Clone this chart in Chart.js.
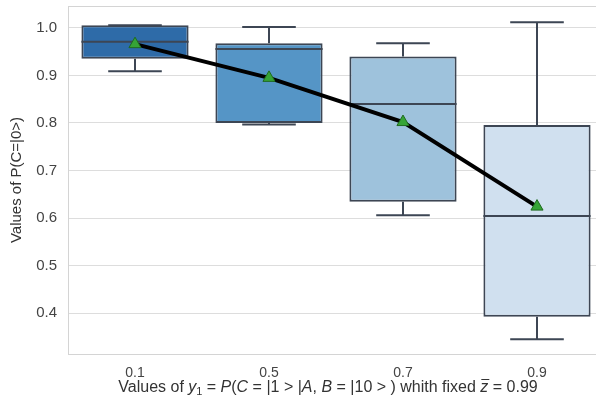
<!DOCTYPE html>
<html>
<head>
<meta charset="utf-8">
<script src="https://cdn.jsdelivr.net/npm/chart.js@4.4.1/dist/chart.umd.min.js"></script>
<style>
  html, body { margin: 0; padding: 0; background: #fff; overflow: hidden; }
  #wrap { width: 606px; height: 408px; }
</style>
</head>
<body>
<div id="wrap"><canvas id="box-chart" width="606" height="408"></canvas></div>
<script>
// y1 settings on the x axis
const categories = ['0.1', '0.5', '0.7', '0.9'];

// box statistics per category
const q1 = [0.935, 0.800, 0.634, 0.392];
const q3 = [1.006, 0.968, 0.940, 0.796];
const medians = [0.971, 0.956, 0.840, 0.604];
const whiskerLow = [0.909, 0.797, 0.606, 0.345];
const whiskerHigh = [1.006, 1.002, 0.968, 1.012];
const means = [0.966, 0.895, 0.802, 0.624];

const yTicks = [0.4, 0.5, 0.6, 0.7, 0.8, 0.9, 1.0];
const boxColors = ['#2e6ba8', '#5595c6', '#9ec2dc', '#d0e0ef'];
const edgeColor = '#3d4654';
const fontFamily = '"Liberation Sans", Arial, sans-serif';

// light frame around the plot area
const framePlugin = {
    id: 'frame',
    beforeDatasetsDraw(chart) {
        const a = chart.chartArea;
        const ctx = chart.ctx;
        ctx.save();
        ctx.strokeStyle = '#d4d4d4';
        ctx.lineWidth = 1;
        ctx.strokeRect(a.left + 0.5, a.top + 0.5, a.right - a.left, a.bottom - a.top);
        ctx.restore();
    }
};

// whiskers, caps and median lines on top of the box bars
const boxDetailsPlugin = {
    id: 'boxDetails',
    afterDatasetDraw(chart, args) {
        if (args.index !== 0) return;
        const y = chart.scales.y;
        const ctx = chart.ctx;
        const meta = chart.getDatasetMeta(0);
        ctx.save();
        ctx.strokeStyle = edgeColor;
        ctx.lineWidth = 2;
        meta.data.forEach((bar, i) => {
            const x = bar.x;
            const half = bar.width / 2;
            const capHalf = bar.width / 4;
            const yLow = y.getPixelForValue(whiskerLow[i]);
            const yHigh = y.getPixelForValue(whiskerHigh[i]);
            const yQ1 = y.getPixelForValue(q1[i]);
            const yQ3 = y.getPixelForValue(q3[i]);
            const yMed = y.getPixelForValue(medians[i]);
            ctx.beginPath();
            ctx.moveTo(x, yQ3); ctx.lineTo(x, yHigh);
            ctx.moveTo(x - capHalf, yHigh); ctx.lineTo(x + capHalf, yHigh);
            ctx.moveTo(x, yQ1); ctx.lineTo(x, yLow);
            ctx.moveTo(x - capHalf, yLow); ctx.lineTo(x + capHalf, yLow);
            ctx.moveTo(x - half, yMed); ctx.lineTo(x + half, yMed);
            ctx.stroke();
        });
        ctx.restore();
    }
};

// x axis title with italic math parts
const xTitlePlugin = {
    id: 'xTitle',
    afterDraw(chart) {
        const ctx = chart.ctx;
        const a = chart.chartArea;
        const size = 16;
        const parts = [
            { t: 'Values of ' },
            { t: 'y', it: true },
            { t: '1', sub: true },
            { t: ' = ' },
            { t: 'P', it: true },
            { t: '(' },
            { t: 'C', it: true },
            { t: ' = |1 > |' },
            { t: 'A', it: true },
            { t: ', ' },
            { t: 'B', it: true },
            { t: ' = |10 > ) whith fixed ' },
            { t: 'z', it: true, bar: true },
            { t: ' = 0.99' }
        ];
        const fontFor = p => (p.it ? 'italic ' : '') + (p.sub ? 11 : size) + 'px ' + fontFamily;
        ctx.save();
        let total = 0;
        parts.forEach(p => { ctx.font = fontFor(p); p.w = ctx.measureText(p.t).width; total += p.w; });
        let x = (a.left + a.right) / 2 - 8 - total / 2;
        const base = a.bottom + 38;
        ctx.fillStyle = '#333';
        ctx.textBaseline = 'alphabetic';
        parts.forEach(p => {
            ctx.font = fontFor(p);
            ctx.fillText(p.t, x, p.sub ? base + 3 : base);
            if (p.bar) {
                ctx.strokeStyle = '#333';
                ctx.lineWidth = 1;
                ctx.beginPath();
                ctx.moveTo(x + 1, base - 12.5);
                ctx.lineTo(x + p.w + 1, base - 12.5);
                ctx.stroke();
            }
            x += p.w;
        });
        ctx.restore();
    }
};

const ctx = document.getElementById('box-chart').getContext('2d');
new Chart(ctx, {
    type: 'bar',
    data: {
        labels: categories,
        datasets: [
            {
                type: 'bar',
                data: q1.map((v, i) => [v, q3[i]]),
                backgroundColor: boxColors,
                borderColor: edgeColor,
                borderWidth: 2,
                borderSkipped: false,
                barPercentage: 0.8,
                categoryPercentage: 1.0,
                order: 2
            },
            {
                type: 'line',
                data: means,
                borderColor: '#000',
                borderWidth: 4,
                pointStyle: 'triangle',
                pointRadius: 7,
                pointBackgroundColor: '#36a436',
                pointBorderColor: '#1f6a1f',
                pointBorderWidth: 1,
                tension: 0,
                order: 1
            }
        ]
    },
    options: {
        responsive: false,
        animation: false,
        layout: { autoPadding: false, padding: { top: 6, right: 2, bottom: 0, left: 0 } },
        plugins: {
            legend: { display: false },
            tooltip: { enabled: false }
        },
        scales: {
            x: {
                grid: { display: false, drawTicks: false },
                border: { display: false },
                ticks: {
                    color: '#444',
                    padding: 11,
                    font: { family: fontFamily, size: 14 }
                },
                afterFit(scale) { scale.height = 54; }
            },
            y: {
                min: 0.3137,
                max: 1.0463,
                grid: { color: '#dddddd', lineWidth: 1, drawTicks: false },
                border: { display: false },
                afterBuildTicks(scale) {
                    scale.ticks = yTicks.map(v => ({ value: v }));
                },
                ticks: {
                    color: '#444',
                    padding: 11,
                    font: { family: fontFamily, size: 15 },
                    callback: v => v.toFixed(1)
                },
                title: {
                    display: true,
                    text: 'Values of P(C=|0>)',
                    color: '#333',
                    padding: { top: 8, bottom: 0 },
                    font: { family: fontFamily, size: 15 }
                },
                afterFit(scale) {
                    scale.width = 68;
                    scale.paddingTop = 0;
                    scale.paddingBottom = 0;
                }
            }
        }
    },
    plugins: [framePlugin, boxDetailsPlugin, xTitlePlugin]
});
</script>
</body>
</html>
